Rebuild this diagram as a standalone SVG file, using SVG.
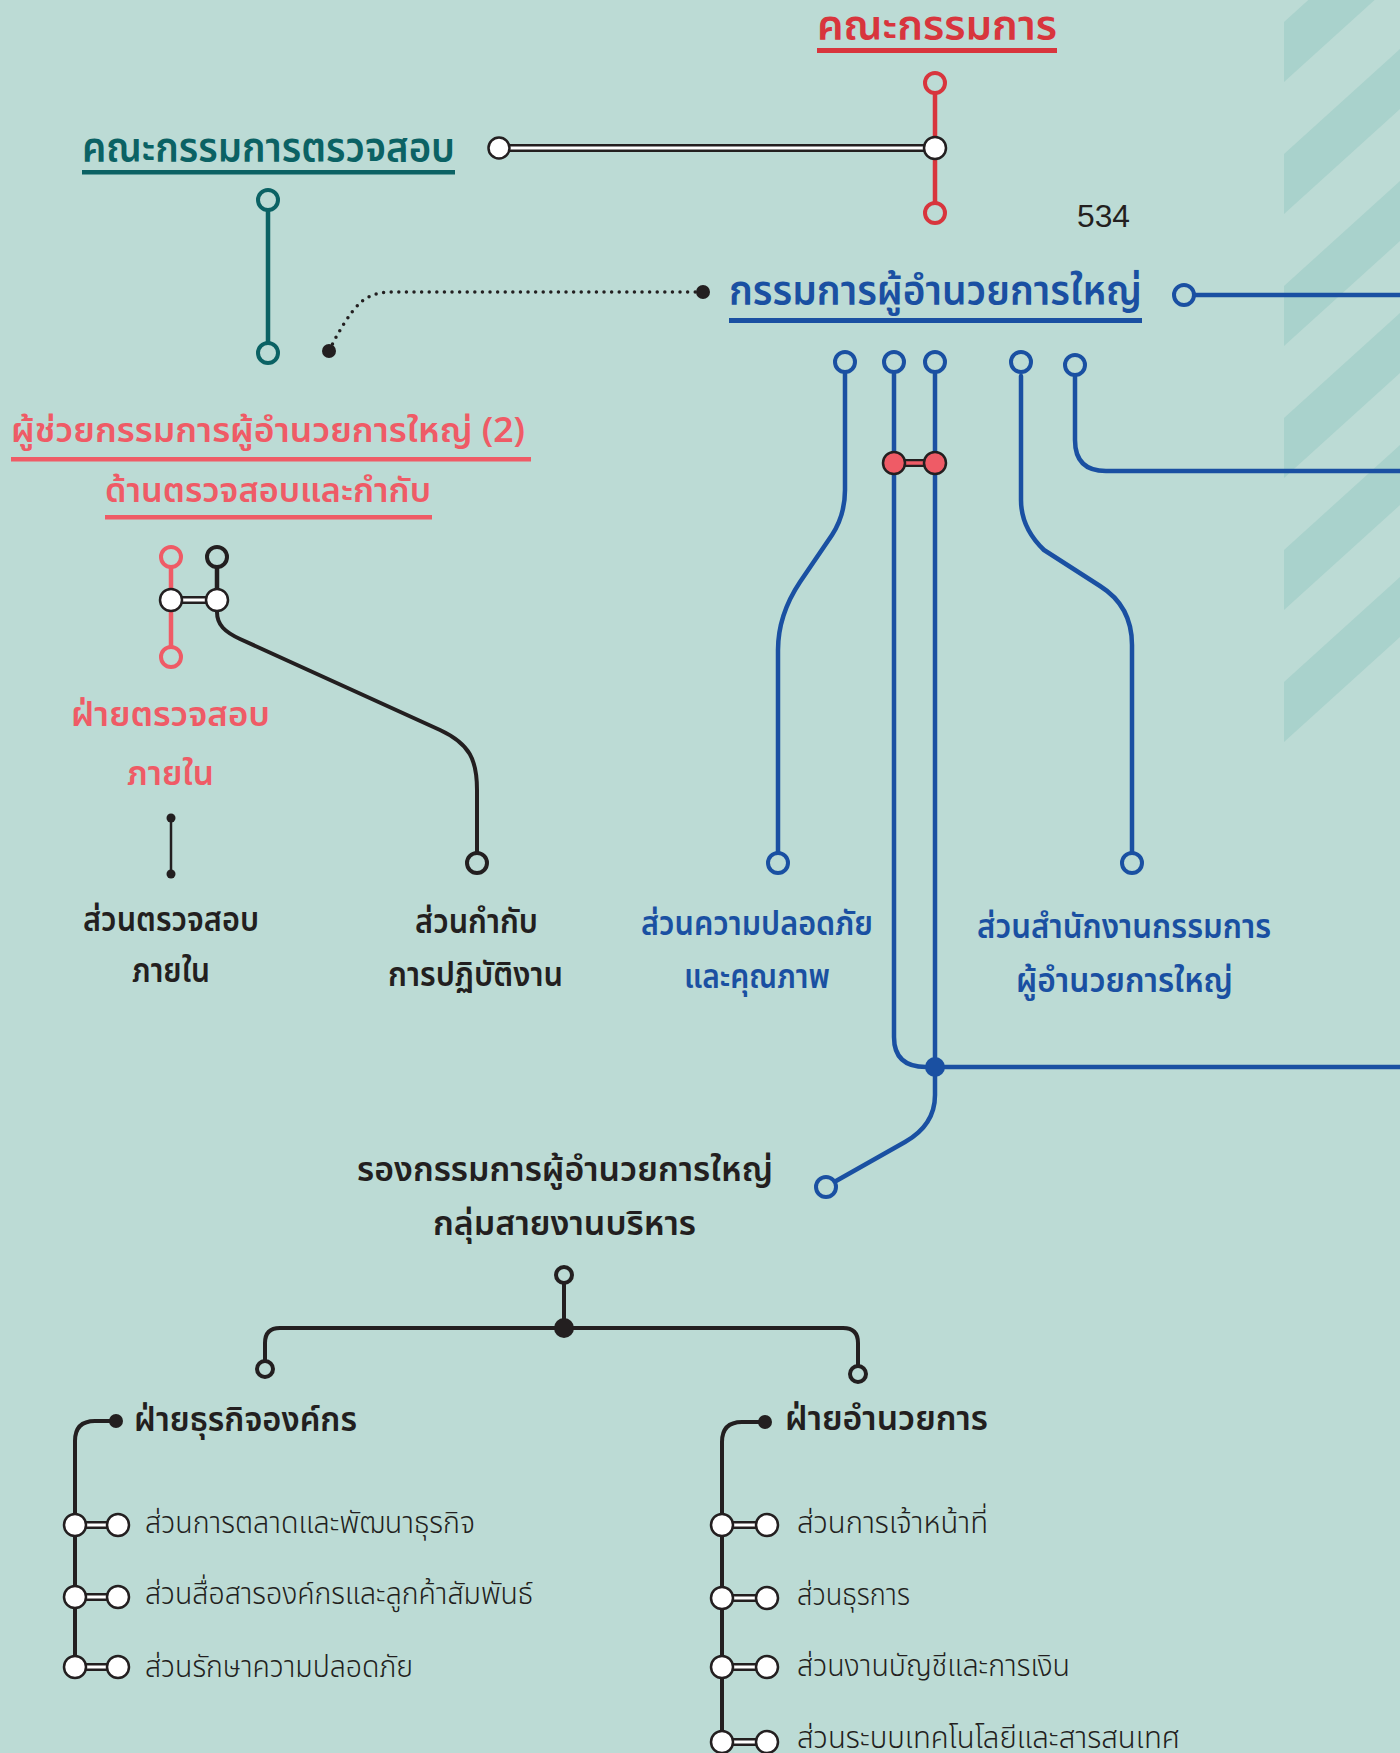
<svg xmlns="http://www.w3.org/2000/svg" width="1400" height="1753" viewBox="0 0 1400 1753">
<style>
text{font-family:"Noto Sans Thai","Noto Sans",Loma,Garuda,"DejaVu Sans",sans-serif}
.h{font-size:40px;font-weight:600}
.m{font-size:34px;font-weight:600}
.l{font-size:30px;font-weight:300;fill:#231f20}
.blue{fill:#1a50a2}.red{fill:#d8353d}.sal{fill:#ef5b66}.teal{fill:#0b6264}.blk{fill:#231f20}
.sb{fill:none;stroke:#1a50a2;stroke-width:4.5;stroke-linecap:round;stroke-linejoin:round}
.sk{fill:none;stroke:#231f20;stroke-width:4;stroke-linecap:round;stroke-linejoin:round}
.rb{fill:#bcdbd5;stroke:#1a50a2;stroke-width:4}
.rk{fill:#bcdbd5;stroke:#231f20;stroke-width:4}
.rr{fill:#bcdbd5;stroke:#d8353d;stroke-width:4}
.rs{fill:#bcdbd5;stroke:#ef5b66;stroke-width:4}
.rt{fill:#bcdbd5;stroke:#0b6264;stroke-width:4}
.wc{fill:#fff;stroke:#231f20;stroke-width:2.5}
.dbo{fill:none;stroke:#231f20;stroke-width:8}
.dbi{fill:none;stroke:#fff;stroke-width:3}
</style>
<rect width="1400" height="1753" fill="#bcdbd5"/>
<g id="stripes" fill="#a9d2cc">
<polygon points="1284,22 1400,-83 1400,-23 1284,82"/>
<polygon points="1284,154 1400,49 1400,109 1284,214"/>
<polygon points="1284,286 1400,181 1400,241 1284,346"/>
<polygon points="1284,418 1400,313 1400,373 1284,478"/>
<polygon points="1284,550 1400,445 1400,505 1284,610"/>
<polygon points="1284,682 1400,577 1400,637 1284,742"/>
</g>
<g id="connectors">
<line x1="935" y1="83" x2="935" y2="213" stroke="#d8353d" stroke-width="4.5"/>
<line class="dbo" x1="499" y1="148" x2="935" y2="148"/>
<line class="dbi" x1="499" y1="148" x2="935" y2="148"/>
<line x1="268" y1="200" x2="268" y2="353" stroke="#0b6264" stroke-width="4.5"/>
<path d="M329,351 Q345,318 360,303 Q372,292 392,292 L703,292" fill="none" stroke="#231f20" stroke-width="3.5" stroke-linecap="round" stroke-dasharray="0 7.6"/>
<line class="sb" x1="1194" y1="295" x2="1400" y2="295"/>
<path class="sb" d="M845,374 V490 Q845,515 832,535 L800,582 Q778,615 778,650 V852"/>
<path class="sb" d="M894,374 V1037 Q894,1067 926,1067 H935"/>
<path class="sb" d="M935,374 V1095 Q935,1125 905,1142 L836,1181"/>
<path class="sb" d="M1021,376 V500 Q1021,528 1044,550 L1100,586 Q1132,606 1132,645 V852"/>
<path class="sb" d="M1075,377 V440 Q1075,471 1106,471 H1400"/>
<line class="sb" x1="935" y1="1067" x2="1400" y2="1067"/>
<line x1="894" y1="463" x2="935" y2="463" stroke="#231f20" stroke-width="8"/>
<line x1="894" y1="463" x2="935" y2="463" stroke="#ef5b66" stroke-width="3.5"/>
<line x1="171" y1="557" x2="171" y2="657" stroke="#ef5b66" stroke-width="4.5"/>
<line x1="217" y1="557" x2="217" y2="600" stroke="#231f20" stroke-width="4.5"/>
<line class="dbo" x1="171" y1="600" x2="217" y2="600"/>
<line class="dbi" x1="171" y1="600" x2="217" y2="600"/>
<path class="sk" d="M217,612 C217,625 225,632 240,639 L440,730 C470,744 477,760 477,790 V852" stroke-width="4.5"/>
<line x1="171" y1="818" x2="171" y2="874" stroke="#231f20" stroke-width="2.5"/>
<line class="sk" x1="564" y1="1283" x2="564" y2="1328"/>
<path class="sk" d="M265,1361 V1343 Q265,1328 280,1328 H843 Q858,1328 858,1343 V1366"/>
<path class="sk" d="M116,1421 H95 Q75,1421 75,1441 V1667"/>
<path class="sk" d="M765,1422 H742 Q722,1422 722,1442 V1753"/>
<g id="bars">
<line class="dbo" x1="75" y1="1525" x2="118" y2="1525"/><line class="dbi" x1="75" y1="1525" x2="118" y2="1525"/>
<line class="dbo" x1="75" y1="1597" x2="118" y2="1597"/><line class="dbi" x1="75" y1="1597" x2="118" y2="1597"/>
<line class="dbo" x1="75" y1="1667" x2="118" y2="1667"/><line class="dbi" x1="75" y1="1667" x2="118" y2="1667"/>
<line class="dbo" x1="722" y1="1525" x2="767" y2="1525"/><line class="dbi" x1="722" y1="1525" x2="767" y2="1525"/>
<line class="dbo" x1="722" y1="1598" x2="767" y2="1598"/><line class="dbi" x1="722" y1="1598" x2="767" y2="1598"/>
<line class="dbo" x1="722" y1="1667" x2="767" y2="1667"/><line class="dbi" x1="722" y1="1667" x2="767" y2="1667"/>
<line class="dbo" x1="722" y1="1742" x2="767" y2="1742"/><line class="dbi" x1="722" y1="1742" x2="767" y2="1742"/>
</g>
</g>
<g id="board">
<text class="h red" x="817" y="40" textLength="240" lengthAdjust="spacingAndGlyphs">คณะกรรมการ</text>
<rect x="817" y="48" width="240" height="5" fill="#d8353d"/>
<circle class="rr" cx="935" cy="83" r="10"/>
<circle class="wc" cx="935" cy="148" r="11"/>
<circle class="rr" cx="935" cy="213" r="10"/>
</g>
<g id="audit-committee">
<text class="h teal" x="82" y="162" textLength="373" lengthAdjust="spacingAndGlyphs">คณะกรรมการตรวจสอบ</text>
<rect x="82" y="170" width="373" height="4.5" fill="#0b6264"/>
<circle class="wc" cx="499" cy="148" r="10.5"/>
<circle class="rt" cx="268" cy="200" r="10"/>
<circle class="rt" cx="268" cy="353" r="10"/>
</g>
<g id="page-number">
<text x="1077" y="227" font-size="32" textLength="53" lengthAdjust="spacingAndGlyphs" style="font-family:'Liberation Sans',Arial,sans-serif" fill="#231f20">534</text>
</g>
<g id="ceo">
<circle cx="329" cy="351" r="7" fill="#231f20"/>
<circle cx="703" cy="292" r="7" fill="#231f20"/>
<text class="h blue" x="729" y="305" textLength="413" lengthAdjust="spacingAndGlyphs">กรรมการผู้อำนวยการใหญ่</text>
<rect x="729" y="318" width="413" height="5" fill="#1a50a2"/>
<circle class="rb" cx="1184" cy="295" r="10"/>
<circle class="rb" cx="845" cy="362" r="10"/>
<circle class="rb" cx="894" cy="362" r="10"/>
<circle class="rb" cx="935" cy="362" r="10"/>
<circle class="rb" cx="1021" cy="362" r="10"/>
<circle class="rb" cx="1075" cy="365" r="10"/>
<circle cx="894" cy="463" r="11" fill="#ef5b66" stroke="#231f20" stroke-width="2.5"/>
<circle cx="935" cy="463" r="11" fill="#ef5b66" stroke="#231f20" stroke-width="2.5"/>
<circle cx="935" cy="1067" r="10" fill="#1a50a2"/>
</g>
<g id="safety-quality">
<circle class="rb" cx="778" cy="863" r="10"/>
<text class="m blue" x="641" y="935" textLength="232" lengthAdjust="spacingAndGlyphs">ส่วนความปลอดภัย</text>
<text class="m blue" x="684" y="988" textLength="146" lengthAdjust="spacingAndGlyphs">และคุณภาพ</text>
</g>
<g id="ceo-office">
<circle class="rb" cx="1132" cy="863" r="10"/>
<text class="m blue" x="977" y="938" textLength="294" lengthAdjust="spacingAndGlyphs">ส่วนสำนักงานกรรมการ</text>
<text class="m blue" x="1016" y="992" textLength="217" lengthAdjust="spacingAndGlyphs">ผู้อำนวยการใหญ่</text>
</g>
<g id="assistant-ceo">
<text class="m sal" x="11" y="442" textLength="514" lengthAdjust="spacingAndGlyphs">ผู้ช่วยกรรมการผู้อำนวยการใหญ่ (2)</text>
<rect x="11" y="457" width="520" height="4.5" fill="#ef5b66"/>
<text class="m sal" x="105" y="502" textLength="326" lengthAdjust="spacingAndGlyphs">ด้านตรวจสอบและกำกับ</text>
<rect x="105" y="515" width="327" height="4.5" fill="#ef5b66"/>
<circle class="rs" cx="171" cy="557" r="10"/>
<circle class="rk" cx="217" cy="557" r="10"/>
<circle class="wc" cx="171" cy="600" r="11"/>
<circle class="wc" cx="217" cy="600" r="11"/>
<circle class="rs" cx="171" cy="657" r="10"/>
</g>
<g id="internal-audit-dept">
<text class="m sal" x="71" y="726" textLength="199" lengthAdjust="spacingAndGlyphs">ฝ่ายตรวจสอบ</text>
<text class="m sal" x="127" y="785" textLength="87" lengthAdjust="spacingAndGlyphs">ภายใน</text>
<circle cx="171" cy="818" r="4.5" fill="#231f20"/>
<circle cx="171" cy="874" r="4.5" fill="#231f20"/>
</g>
<g id="internal-audit-section">
<text class="m blk" x="83" y="931" textLength="176" lengthAdjust="spacingAndGlyphs">ส่วนตรวจสอบ</text>
<text class="m blk" x="132" y="982" textLength="78" lengthAdjust="spacingAndGlyphs">ภายใน</text>
</g>
<g id="compliance-section">
<circle class="rk" cx="477" cy="863" r="10"/>
<text class="m blk" x="415" y="933" textLength="123" lengthAdjust="spacingAndGlyphs">ส่วนกำกับ</text>
<text class="m blk" x="388" y="986" textLength="175" lengthAdjust="spacingAndGlyphs">การปฏิบัติงาน</text>
</g>
<g id="deputy-ceo">
<circle class="rb" cx="826" cy="1187" r="10"/>
<text class="m blk" x="357" y="1181" textLength="416" lengthAdjust="spacingAndGlyphs">รองกรรมการผู้อำนวยการใหญ่</text>
<text class="m blk" x="433" y="1235" textLength="263" lengthAdjust="spacingAndGlyphs">กลุ่มสายงานบริหาร</text>
<circle class="rk" cx="564" cy="1275" r="8" stroke-width="3.5"/>
<circle cx="564" cy="1328" r="10" fill="#231f20"/>
<circle class="rk" cx="265" cy="1369" r="8" stroke-width="3.5"/>
<circle class="rk" cx="858" cy="1374" r="8" stroke-width="3.5"/>
</g>
<g id="corporate-business">
<circle cx="116" cy="1421" r="7" fill="#231f20"/>
<text class="m blk" x="134" y="1431" textLength="223" lengthAdjust="spacingAndGlyphs" font-weight="500">ฝ่ายธุรกิจองค์กร</text>
<circle class="wc" cx="75" cy="1525" r="11"/><circle class="wc" cx="118" cy="1525" r="11"/>
<text class="l" x="145" y="1533" textLength="330" lengthAdjust="spacingAndGlyphs">ส่วนการตลาดและพัฒนาธุรกิจ</text>
<circle class="wc" cx="75" cy="1597" r="11"/><circle class="wc" cx="118" cy="1597" r="11"/>
<text class="l" x="145" y="1604" textLength="388" lengthAdjust="spacingAndGlyphs">ส่วนสื่อสารองค์กรและลูกค้าสัมพันธ์</text>
<circle class="wc" cx="75" cy="1667" r="11"/><circle class="wc" cx="118" cy="1667" r="11"/>
<text class="l" x="145" y="1677" textLength="268" lengthAdjust="spacingAndGlyphs">ส่วนรักษาความปลอดภัย</text>
</g>
<g id="administration">
<circle cx="765" cy="1422" r="7" fill="#231f20"/>
<text class="m blk" x="785" y="1430" textLength="203" lengthAdjust="spacingAndGlyphs" font-weight="500">ฝ่ายอำนวยการ</text>
<circle class="wc" cx="722" cy="1525" r="11"/><circle class="wc" cx="767" cy="1525" r="11"/>
<text class="l" x="797" y="1533" textLength="191" lengthAdjust="spacingAndGlyphs">ส่วนการเจ้าหน้าที่</text>
<circle class="wc" cx="722" cy="1598" r="11"/><circle class="wc" cx="767" cy="1598" r="11"/>
<text class="l" x="797" y="1605" textLength="113" lengthAdjust="spacingAndGlyphs">ส่วนธุรการ</text>
<circle class="wc" cx="722" cy="1667" r="11"/><circle class="wc" cx="767" cy="1667" r="11"/>
<text class="l" x="797" y="1676" textLength="273" lengthAdjust="spacingAndGlyphs">ส่วนงานบัญชีและการเงิน</text>
<circle class="wc" cx="722" cy="1742" r="11"/><circle class="wc" cx="767" cy="1742" r="11"/>
<text class="l" x="797" y="1748" textLength="383" lengthAdjust="spacingAndGlyphs">ส่วนระบบเทคโนโลยีและสารสนเทศ</text>
</g>
</svg>
